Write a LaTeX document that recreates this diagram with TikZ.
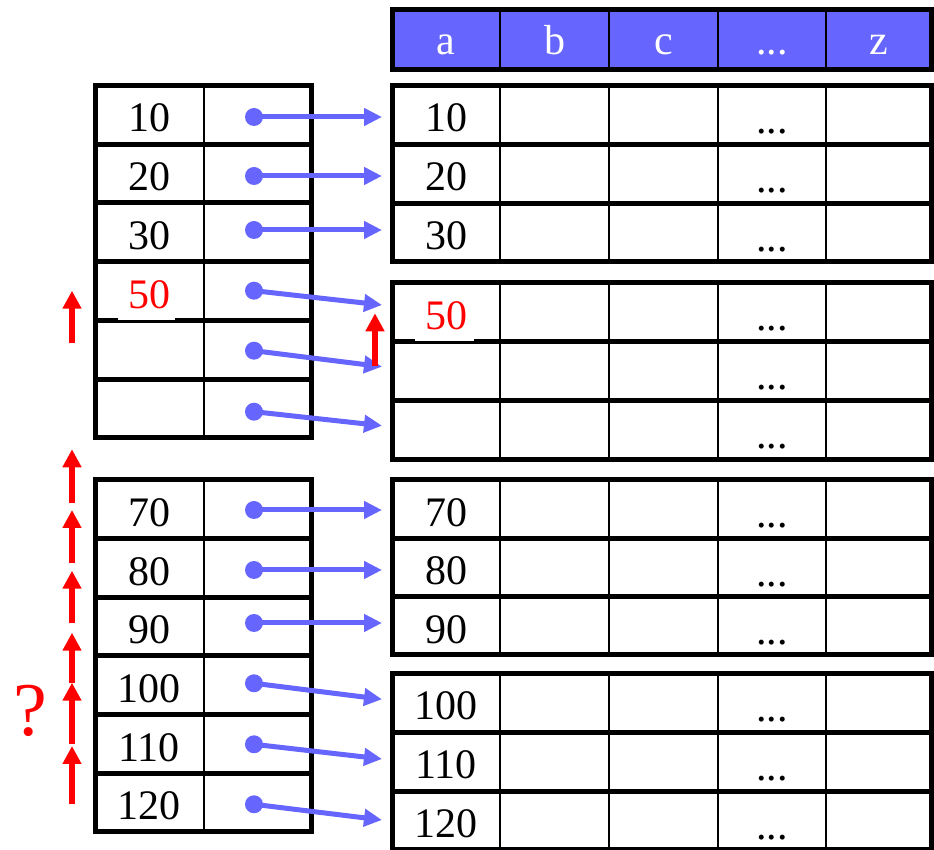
\documentclass[tikz,border=0pt]{standalone}
\usepackage{fontspec}
\setmainfont{Liberation Serif}
\newfontfamily\tnr{Liberation Serif}
\usetikzlibrary{arrows.meta}
\definecolor{hblue}{HTML}{6666FF}
\definecolor{hred}{HTML}{FF0000}
\begin{document}
\begin{tikzpicture}[x=0.5pt,y=-0.5pt,
  thickline/.style={line width=2.5pt},
  thinline/.style={line width=1pt},
  celltxt/.style={font=\tnr\fontsize{21}{21}\selectfont, anchor=base, inner sep=0pt},
  headtxt/.style={celltxt, text=white},
  redtxt/.style={celltxt, text=hred},
  ptr/.style={draw=hblue, line width=2.5pt, -{Triangle[length=9pt,width=8.5pt]}},
  ptrdot/.style={circle, fill=hblue, minimum size=9pt, inner sep=0pt},
  uparrow/.style={draw=hred, line width=3pt, -{Triangle[length=9pt,width=9pt]}}
]
\useasboundingbox (0,0) rectangle (934,850);

% ---------- left table 1 ----------
\foreach \y in {144.25,203,261.75,320.5,379.25} \draw[thickline] (95,\y) -- (311,\y);
\draw[thinline] (203.5,85.5) -- (203.5,438);
\draw[thickline] (95,85.5) rectangle (311,438);
% ---------- left table 2 ----------
\foreach \y in {538.67,597.33,656,714.67,773.33} \draw[thickline] (95,\y) -- (311,\y);
\draw[thinline] (203.5,480) -- (203.5,832);
\draw[thickline] (95,480) rectangle (311,832);

% ---------- header ----------
\fill[hblue] (392,10) rectangle (931.5,69.5);
\foreach \x in {500,609,718,826} \draw[thinline] (\x,10) -- (\x,69.5);
\draw[thickline] (392,10) rectangle (931.5,69.5);
\node[headtxt] (ha) at (446,55) {a};
\node[headtxt] (hb) at (554.5,55) {b};
\node[headtxt] (hc) at (663.5,55) {c};
\node[headtxt] (hd) at (772,55) {...};
\node[headtxt] (hz) at (878.75,55) {z};

% ---------- right tables ----------
\foreach \t/\b/\g in {85.5/262/1, 282.5/459.5/2, 480/655/3, 674/850/4} {
  \pgfmathsetmacro\h{(\b-\t)/3}
  \foreach \x in {500,609,718,826} \draw[thinline] (\x,\t) -- (\x,\b);
  \foreach \k in {1,2} \draw[thickline] (392,{\t+\k*\h}) -- (931.5,{\t+\k*\h});
  \foreach \k in {0,1,2} \node[celltxt] (e\g\k) at (772,{\t+\k*\h+48}) {...};
  \draw[thickline] (392,\t) rectangle (931.5,\b);
}

% ---------- left keys ----------
\node[celltxt] (l1) at (149,132) {10};
\node[celltxt] (l2) at (149,190.75) {20};
\node[celltxt] (l3) at (149,249.5) {30};
\fill[white] (118,268) rectangle (175,320);
\node[redtxt] (l4) at (149,308.25) {50};
\node[celltxt] (l7) at (149,526.5) {70};
\node[celltxt] (l8) at (149,585.2) {80};
\node[celltxt] (l9) at (149,643.8) {90};
\node[celltxt] (l10) at (149,702.5) {100};
\node[celltxt] (l11) at (149,761.2) {110};
\node[celltxt] (l12) at (149,819.8) {120};

% ---------- right keys ----------
\node[celltxt] (r1) at (446,132) {10};
\node[celltxt] (r2) at (446,190.8) {20};
\node[celltxt] (r3) at (446,249.7) {30};
\fill[white] (415,290) rectangle (474,341.5);
\node[redtxt] (r4) at (446,330) {50};
\node[celltxt] (r7) at (446,526.5) {70};
\node[celltxt] (r8) at (446,584.8) {80};
\node[celltxt] (r9) at (446,643.2) {90};
\node[celltxt] (r10) at (446,720) {100};
\node[celltxt] (r11) at (446,778.7) {110};
\node[celltxt] (r12) at (446,837.3) {120};

% ---------- pointers ----------
\foreach \i/\sy/\ty in {1/117/117, 2/176/176, 3/230/230, 4/290.7/305, 5/350.7/366.7, 6/411.7/425.7,
                        7/510/510, 8/570/570, 9/623/623, 10/683.3/699.3, 11/744.3/759, 12/804.3/820} {
  \node[ptrdot] (p\i) at (254,\sy) {};
  \coordinate (t\i) at (382,\ty);
  \draw[ptr] (p\i.center) -- (t\i);
}

% ---------- red arrows ----------
\foreach \i/\bb/\tt in {1/343.3/290.7, 2/502.7/449.3, 3/562.7/510, 4/623.3/570.7, 5/683.3/632.7, 6/744/682.7, 7/804/746} {
  \coordinate (ua\i) at (72,\bb);
  \coordinate (ub\i) at (72,\tt);
  \draw[uparrow] (ua\i) -- (ub\i);
}
\coordinate (ma) at (375,366);
\coordinate (mb) at (375,313.3);
\draw[uparrow] (ma) -- (mb);

\node[text=hred, font=\tnr\fontsize{38}{38}\selectfont, inner sep=0pt] (q) at (30,711) {?};
\end{tikzpicture}
\end{document}
